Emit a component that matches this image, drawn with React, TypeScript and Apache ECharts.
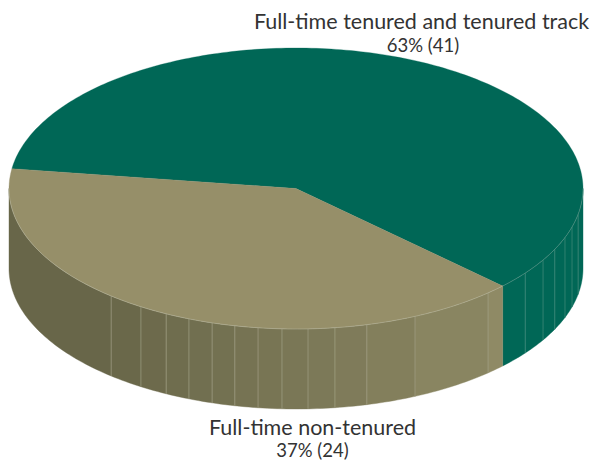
import React, { useEffect, useRef } from "react";
import * as echarts from "echarts";

const categories = ["Full-time tenured and tenured track", "Full-time non-tenured"];
const counts = [41, 24];
const shares = ["63% (41)", "37% (24)"];

const CX = 296, CY = 188.5, RX = 287, RY = 140.5, DEPTH = 80;
const START = 182.5; // degrees, clockwise from the +x axis
const WARP = 7.7, WARP_AXIS = 116;
const TOP = ["#006756", "#968f69"];
const RIM = ["#6f9f90", "#b9b8a0"];
const LINE = ["#4f9383", "#a9a78f"];
const SIDE_BREAKS = [0, 10.6, 15.9, 20.4, 25.6, 30.6, 37, 48, 65.5, 75.7, 82.2, 87.6, 92.8, 97.6, 102.3, 107, 111.9, 116.9, 122.7, 130.1, 180];

const rad = (d: number) => (d * Math.PI) / 180;
const warp = (t: number) => t + WARP * Math.sin(2 * rad(t - WARP_AXIS));
const pt = (a: number, dy = 0) => [CX + RX * Math.cos(rad(a)), CY + RY * Math.sin(rad(a)) + dy];
const arc = (a: number, b: number, dy = 0) => {
  const out: number[][] = [];
  const n = Math.max(2, Math.ceil(Math.abs(b - a)));
  for (let i = 0; i <= n; i++) out.push(pt(a + ((b - a) * i) / n, dy));
  return out;
};
const tanShade = (a: number) => {
  const t = Math.min(1, Math.max(0, (130 - a) / 86));
  const c = [0x68 + (0x8f - 0x68) * t, 0x66 + (0x8a - 0x66) * t, 0x49 + (0x65 - 0x49) * t];
  return `rgb(${c.map(Math.round).join(",")})`;
};

function App() {
  const ref = useRef<HTMLDivElement>(null);
  useEffect(() => {
    document.body.style.margin = "0";
    const chart = echarts.init(ref.current!, null, { renderer: "svg" });
    const total = counts.reduce((s, v) => s + v, 0);
    const renderItem = (params: any, api: any) => {
      const i = params.dataIndex;
      const before = counts.slice(0, i).reduce((s, v) => s + v, 0);
      const a0 = warp(START + (before / total) * 360);
      const a1 = warp(START + ((before + api.value(0)) / total) * 360);
      const children: any[] = [];
      const lines: any[] = [];
      for (const off of [0, -360]) {
        const lo = a0 + off, hi = a1 + off;
        for (let k = 0; k < SIDE_BREAKS.length - 1; k++) {
          const s = Math.max(lo, SIDE_BREAKS[k]), e = Math.min(hi, SIDE_BREAKS[k + 1]);
          if (e <= s) continue;
          const fill = i === 0 ? TOP[0] : tanShade((SIDE_BREAKS[k] + SIDE_BREAKS[k + 1]) / 2);
          children.push({
            type: "polygon",
            shape: { points: [...arc(s, e), ...arc(e, s, DEPTH)] },
            style: { fill, stroke: fill, lineWidth: 0.4 },
          });
          if (SIDE_BREAKS[k + 1] < hi && SIDE_BREAKS[k + 1] < 180) {
            const [x1, y1] = pt(SIDE_BREAKS[k + 1]);
            const [x2, y2] = pt(SIDE_BREAKS[k + 1], DEPTH);
            lines.push({
              type: "line",
              shape: { x1, y1, x2, y2 },
              style: { stroke: LINE[i], lineWidth: 0.6 },
            });
          }
        }
        const rs = Math.max(lo, 0), re = Math.min(hi, 180);
        if (re > rs) {
          lines.push({
            type: "polyline",
            shape: { points: arc(rs, re) },
            style: { stroke: RIM[i], lineWidth: 0.5, fill: "none" },
          });
        }
      }
      children.push({
        type: "polygon",
        shape: { points: [[CX, CY], ...arc(a0, a1)] },
        style: { fill: TOP[i], stroke: TOP[i], lineWidth: 0.3 },
      });
      children.push(...lines);
      return { type: "group", children };
    };
    const label = (text: string, x: number, y: number, size: number) => ({
      type: "text",
      x,
      y,
      silent: true,
      style: {
        text,
        fill: "#333333",
        fontFamily: "Lato",
        fontSize: size,
        textAlign: "center",
        textVerticalAlign: "middle",
      },
    });
    chart.setOption({
      animation: false,
      backgroundColor: "#ffffff",
      series: [
        {
          type: "custom",
          coordinateSystem: "none",
          silent: true,
          data: counts.map((v) => [v]),
          renderItem,
        },
      ],
      graphic: [
        label(categories[0], 421.5, 20.5, 21.5),
        label(shares[0], 423, 44.5, 18.5),
        label(categories[1], 312.5, 427, 21.5),
        label(shares[1], 312.5, 449.5, 18.5),
      ],
    });
    return () => chart.dispose();
  }, []);
  return <div ref={ref} style={{ width: 598, height: 460 }} />;
}

export default App;
